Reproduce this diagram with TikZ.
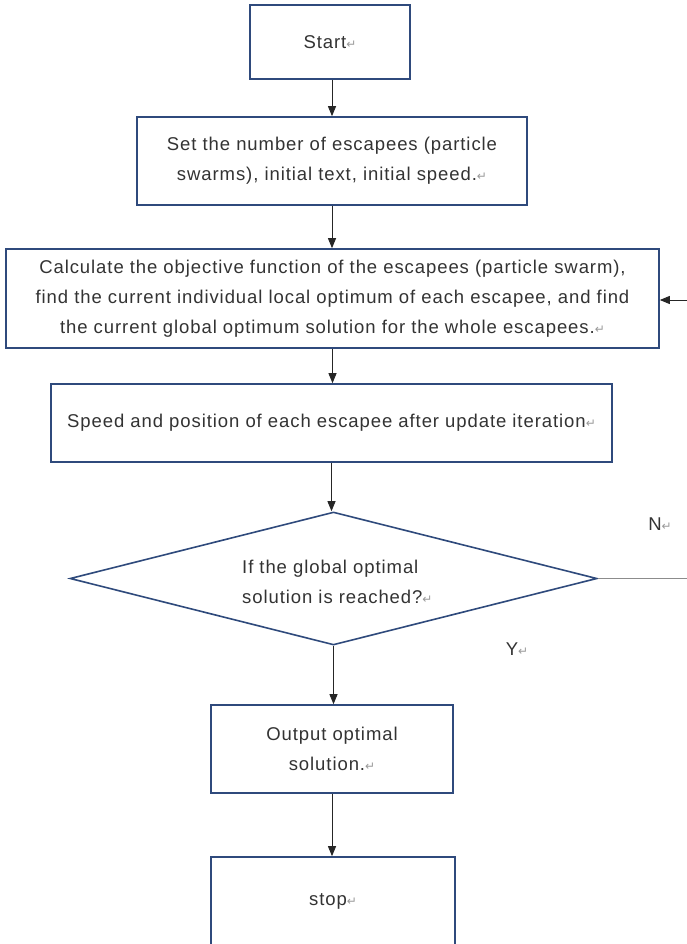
\documentclass[tikz,border=0pt]{standalone}
\usepackage{fontspec}
\setmainfont[LetterSpace=5]{Liberation Sans}
\newfontfamily\markfont{DejaVu Sans}
\usetikzlibrary{arrows.meta,shapes.geometric}
\definecolor{boxblue}{HTML}{2F4A7C}
\definecolor{txt}{HTML}{333333}
\definecolor{markgray}{HTML}{9A9A9A}
\definecolor{nlinegray}{HTML}{8C8C8C}
\newcommand{\pmark}{{\color{markgray}\markfont\fontsize{12}{12}\selectfont ↵}}
\begin{document}
\begin{tikzpicture}[x=1pt,y=-1pt,
  box/.style={draw=boxblue, line width=1.6pt, fill=white, text=txt,
    font=\fontsize{18.5}{30}\selectfont, align=center, inner sep=0pt},
  plain/.style={text=txt, font=\fontsize{18.5}{30}\selectfont, inner sep=0pt},
  arr/.style={-{Triangle[length=10pt,width=8pt]}, line width=0.9pt, black!85},
  nostyle/.style={line width=1.2pt, draw=nlinegray}]
\useasboundingbox (0,0) rectangle (687,944);
\clip (0,0) rectangle (687,944);
\fill[white] (0,0) rectangle (687,944);

\node[box, minimum width=160pt, minimum height=74pt] (start) at (330,42) {Start\pmark};
\node[box, minimum width=390pt, minimum height=88pt] (set) at (332,161)
  {Set the number of escapees (particle\\ swarms), initial text, initial speed.\pmark};
\node[box, minimum width=653pt, minimum height=99pt] (calc) at (332.5,298.5)
  {Calculate the objective function of the escapees (particle swarm),\\
   find the current individual local optimum of each escapee, and find\\
   the current global optimum solution for the whole escapees.\pmark};
\node[box, minimum width=561pt, minimum height=78pt] (speed) at (331.5,423)
  {Speed and position of each escapee after update iteration\pmark};
\node[draw=boxblue, line width=1.6pt, shape=diamond, inner sep=0pt,
  minimum width=527pt, minimum height=133pt] (dec) at (333.5,578.5) {};
\node[plain, anchor=west, align=left] (dectxt) at (242,582)
  {If the global optimal\\ solution is reached?\pmark};
\node[box, minimum width=242pt, minimum height=88pt] (out) at (332,749)
  {Output optimal\\ solution.\pmark};
\node[box, minimum width=244pt, minimum height=89pt] (stop) at (333,901.5) {stop\pmark};

\node[plain] (nlab) at (660,524) {N\pmark};
\node[plain] (ylab) at (517,649) {Y\pmark};

\coordinate (fbR) at (687,300);
\coordinate (nR) at (687,578.5);

\draw[arr] (start.south -| set.north) -- (set.north);
\draw[arr] (set.south) -- (set.south |- calc.north);
\draw[arr] (calc.south) -- (calc.south |- speed.north);
\draw[arr] (speed.south) -- (speed.south |- dec.north);
\draw[arr] (dec.south) -- (dec.south |- out.north);
\draw[arr] (out.south) -- (out.south |- stop.north);
\draw[nostyle] (dec.east) -- (nR);
\draw[arr] (fbR) -- (fbR -| calc.east);
\end{tikzpicture}
\end{document}
